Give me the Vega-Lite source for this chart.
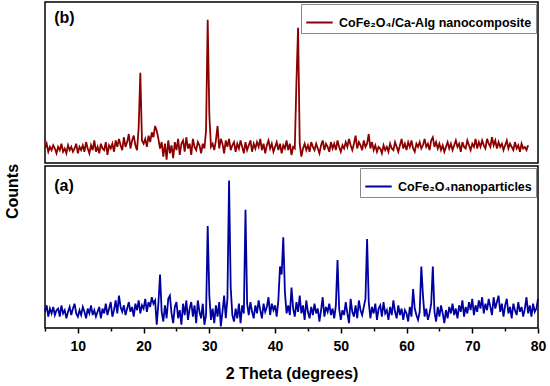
{
"$schema": "https://vega.github.io/schema/vega-lite/v6.json",
"padding": {"left": 4, "top": 1, "right": 11, "bottom": 2},
"background": "white",
"config": {
  "font": "Liberation Sans",
  "view": {"stroke": "black", "strokeWidth": 1.5},
  "legend": {"orient": "top-right", "offset": 2, "padding": 4, "strokeColor": "#888888", "fillColor": "white", "symbolType": "stroke", "symbolStrokeWidth": 2, "symbolSize": 700, "labelFontSize": 12.5, "labelFontWeight": "bold", "labelColor": "black", "labelLimit": 0, "labelOffset": 5, "title": null},
  "axis": {"grid": false}
},
"title": {"text": "Counts", "orient": "left", "anchor": "middle", "fontSize": 16, "fontWeight": "bold", "color": "black", "offset": 20},
"spacing": 0,
"resolve": {"scale": {"color": "independent"}, "legend": {"color": "independent"}},
"datasets": {"xrd": [
{"t":5,"a":10,"b":9},{"t":5.25,"a":14,"b":12},{"t":5.5,"a":7,"b":7},{"t":5.75,"a":12,"b":10},
{"t":6,"a":9,"b":8},{"t":6.25,"a":13,"b":11},{"t":6.5,"a":8,"b":9},{"t":6.75,"a":11,"b":6},
{"t":7,"a":12,"b":10},{"t":7.25,"a":7,"b":8},{"t":7.5,"a":14,"b":12},{"t":7.75,"a":9,"b":7},
{"t":8,"a":11,"b":9},{"t":8.25,"a":6,"b":6},{"t":8.5,"a":10,"b":11},{"t":8.75,"a":13,"b":8},
{"t":9,"a":8,"b":10},{"t":9.25,"a":12,"b":7},{"t":9.5,"a":15,"b":9},{"t":9.75,"a":9,"b":12},
{"t":10,"a":7,"b":6},{"t":10.25,"a":11,"b":10},{"t":10.5,"a":8,"b":8},{"t":10.75,"a":13,"b":11},
{"t":11,"a":10,"b":7},{"t":11.25,"a":6,"b":13},{"t":11.5,"a":12,"b":9},{"t":11.75,"a":9,"b":6},
{"t":12,"a":14,"b":11},{"t":12.25,"a":8,"b":8},{"t":12.5,"a":11,"b":14},{"t":12.75,"a":7,"b":7},
{"t":13,"a":10,"b":10},{"t":13.25,"a":13,"b":6},{"t":13.5,"a":6,"b":12},{"t":13.75,"a":12,"b":9},
{"t":14,"a":9,"b":8},{"t":14.25,"a":15,"b":13},{"t":14.5,"a":8,"b":5},{"t":14.75,"a":12,"b":11},
{"t":15,"a":16,"b":9},{"t":15.25,"a":7,"b":12},{"t":15.5,"a":11,"b":7},{"t":15.75,"a":17,"b":14},
{"t":16,"a":9,"b":10},{"t":16.25,"a":20,"b":15},{"t":16.5,"a":13,"b":11},{"t":16.75,"a":10,"b":8},
{"t":17,"a":14,"b":16},{"t":17.25,"a":8,"b":10},{"t":17.5,"a":12,"b":13},{"t":17.75,"a":16,"b":18},
{"t":18,"a":10,"b":9},{"t":18.25,"a":13,"b":14},{"t":18.5,"a":7,"b":17},{"t":18.75,"a":15,"b":11},
{"t":19,"a":11,"b":8},{"t":19.25,"a":17,"b":22},{"t":19.5,"a":9,"b":56},{"t":19.75,"a":14,"b":14},
{"t":20,"a":12,"b":12},{"t":20.25,"a":18,"b":15},{"t":20.5,"a":10,"b":10},{"t":20.75,"a":16,"b":17},
{"t":21,"a":13,"b":13},{"t":21.25,"a":19,"b":19},{"t":21.5,"a":15,"b":16},{"t":21.75,"a":17,"b":23},
{"t":22,"a":2,"b":20},{"t":22.25,"a":15,"b":15},{"t":22.5,"a":33,"b":9},{"t":22.75,"a":10,"b":13},
{"t":23,"a":4,"b":4},{"t":23.25,"a":14,"b":12},{"t":23.5,"a":6,"b":2},{"t":23.75,"a":18,"b":14},
{"t":24,"a":20,"b":6},{"t":24.25,"a":9,"b":11},{"t":24.5,"a":3,"b":3},{"t":24.75,"a":13,"b":13},
{"t":25,"a":16,"b":8},{"t":25.25,"a":6,"b":15},{"t":25.5,"a":11,"b":5},{"t":25.75,"a":2,"b":12},
{"t":26,"a":15,"b":14},{"t":26.25,"a":8,"b":7},{"t":26.5,"a":17,"b":16},{"t":26.75,"a":5,"b":9},
{"t":27,"a":12,"b":12},{"t":27.25,"a":16,"b":5},{"t":27.5,"a":7,"b":15},{"t":27.75,"a":14,"b":10},
{"t":28,"a":3,"b":8},{"t":28.25,"a":17,"b":13},{"t":28.5,"a":10,"b":11},{"t":28.75,"a":6,"b":6},
{"t":29,"a":15,"b":12},{"t":29.25,"a":2,"b":9},{"t":29.5,"a":8,"b":20},{"t":29.75,"a":63,"b":89},
{"t":30,"a":20,"b":30},{"t":30.25,"a":5,"b":10},{"t":30.5,"a":12,"b":12},{"t":30.75,"a":3,"b":8},
{"t":31,"a":14,"b":14},{"t":31.25,"a":7,"b":23},{"t":31.5,"a":16,"b":9},{"t":31.75,"a":1,"b":15},
{"t":32,"a":10,"b":12},{"t":32.25,"a":20,"b":6},{"t":32.5,"a":6,"b":14},{"t":32.75,"a":18,"b":10},
{"t":33,"a":91,"b":15},{"t":33.25,"a":25,"b":8},{"t":33.5,"a":8,"b":11},{"t":33.75,"a":4,"b":13},
{"t":34,"a":12,"b":7},{"t":34.25,"a":6,"b":12},{"t":34.5,"a":15,"b":9},{"t":34.75,"a":3,"b":14},
{"t":35,"a":14,"b":10},{"t":35.25,"a":9,"b":6},{"t":35.5,"a":73,"b":13},{"t":35.75,"a":15,"b":8},
{"t":36,"a":8,"b":11},{"t":36.25,"a":16,"b":14},{"t":36.5,"a":10,"b":7},{"t":36.75,"a":6,"b":12},
{"t":37,"a":14,"b":9},{"t":37.25,"a":9,"b":13},{"t":37.5,"a":17,"b":10},{"t":37.75,"a":11,"b":15},
{"t":38,"a":6,"b":8},{"t":38.25,"a":15,"b":12},{"t":38.5,"a":10,"b":6},{"t":38.75,"a":13,"b":11},
{"t":39,"a":19,"b":14},{"t":39.25,"a":8,"b":9},{"t":39.5,"a":15,"b":12},{"t":39.75,"a":11,"b":7},
{"t":40,"a":14,"b":10},{"t":40.25,"a":7,"b":13},{"t":40.5,"a":17,"b":8},{"t":40.75,"a":38,"b":12},
{"t":41,"a":33,"b":6},{"t":41.25,"a":56,"b":11},{"t":41.5,"a":22,"b":9},{"t":41.75,"a":9,"b":14},
{"t":42,"a":14,"b":8},{"t":42.25,"a":8,"b":12},{"t":42.5,"a":25,"b":5},{"t":42.75,"a":12,"b":10},
{"t":43,"a":7,"b":9},{"t":43.25,"a":16,"b":50},{"t":43.5,"a":10,"b":84},{"t":43.75,"a":20,"b":12},
{"t":44,"a":9,"b":4},{"t":44.25,"a":14,"b":9},{"t":44.5,"a":5,"b":12},{"t":44.75,"a":17,"b":8},
{"t":45,"a":10,"b":11},{"t":45.25,"a":6,"b":7},{"t":45.5,"a":13,"b":13},{"t":45.75,"a":8,"b":10},
{"t":46,"a":15,"b":8},{"t":46.25,"a":9,"b":12},{"t":46.5,"a":12,"b":9},{"t":46.75,"a":4,"b":6},
{"t":47,"a":11,"b":11},{"t":47.25,"a":19,"b":14},{"t":47.5,"a":7,"b":8},{"t":47.75,"a":13,"b":12},
{"t":48,"a":10,"b":10},{"t":48.25,"a":15,"b":7},{"t":48.5,"a":8,"b":13},{"t":48.75,"a":12,"b":9},
{"t":49,"a":6,"b":12},{"t":49.25,"a":14,"b":8},{"t":49.5,"a":42,"b":14},{"t":49.75,"a":12,"b":10},
{"t":50,"a":5,"b":7},{"t":50.25,"a":11,"b":11},{"t":50.5,"a":8,"b":9},{"t":50.75,"a":16,"b":13},
{"t":51,"a":9,"b":10},{"t":51.25,"a":3,"b":15},{"t":51.5,"a":18,"b":11},{"t":51.75,"a":10,"b":8},
{"t":52,"a":7,"b":12},{"t":52.25,"a":14,"b":17},{"t":52.5,"a":6,"b":9},{"t":52.75,"a":17,"b":13},
{"t":53,"a":11,"b":11},{"t":53.25,"a":8,"b":8},{"t":53.5,"a":13,"b":14},{"t":53.75,"a":18,"b":10},
{"t":54,"a":55,"b":12},{"t":54.25,"a":16,"b":18},{"t":54.5,"a":6,"b":9},{"t":54.75,"a":13,"b":13},
{"t":55,"a":9,"b":8},{"t":55.25,"a":15,"b":11},{"t":55.5,"a":5,"b":7},{"t":55.75,"a":12,"b":10},
{"t":56,"a":14,"b":9},{"t":56.25,"a":7,"b":6},{"t":56.5,"a":16,"b":11},{"t":56.75,"a":9,"b":8},
{"t":57,"a":11,"b":10},{"t":57.25,"a":5,"b":7},{"t":57.5,"a":13,"b":12},{"t":57.75,"a":8,"b":9},
{"t":58,"a":17,"b":8},{"t":58.25,"a":10,"b":13},{"t":58.5,"a":6,"b":10},{"t":58.75,"a":14,"b":7},
{"t":59,"a":8,"b":11},{"t":59.25,"a":12,"b":15},{"t":59.5,"a":5,"b":9},{"t":59.75,"a":11,"b":12},
{"t":60,"a":9,"b":8},{"t":60.25,"a":4,"b":13},{"t":60.5,"a":13,"b":10},{"t":60.75,"a":7,"b":14},
{"t":61,"a":24,"b":9},{"t":61.25,"a":12,"b":7},{"t":61.5,"a":8,"b":12},{"t":61.75,"a":5,"b":10},
{"t":62,"a":10,"b":13},{"t":62.25,"a":38,"b":9},{"t":62.5,"a":20,"b":11},{"t":62.75,"a":7,"b":15},
{"t":63,"a":12,"b":10},{"t":63.25,"a":5,"b":12},{"t":63.5,"a":9,"b":8},{"t":63.75,"a":15,"b":14},
{"t":64,"a":38,"b":16},{"t":64.25,"a":10,"b":10},{"t":64.5,"a":4,"b":13},{"t":64.75,"a":13,"b":9},
{"t":65,"a":7,"b":12},{"t":65.25,"a":14,"b":8},{"t":65.5,"a":9,"b":11},{"t":65.75,"a":3,"b":7},
{"t":66,"a":11,"b":10},{"t":66.25,"a":6,"b":13},{"t":66.5,"a":13,"b":9},{"t":66.75,"a":9,"b":12},
{"t":67,"a":15,"b":8},{"t":67.25,"a":8,"b":11},{"t":67.5,"a":12,"b":14},{"t":67.75,"a":6,"b":10},
{"t":68,"a":14,"b":12},{"t":68.25,"a":10,"b":7},{"t":68.5,"a":17,"b":13},{"t":68.75,"a":7,"b":10},
{"t":69,"a":13,"b":9},{"t":69.25,"a":9,"b":14},{"t":69.5,"a":16,"b":11},{"t":69.75,"a":11,"b":8},
{"t":70,"a":18,"b":12},{"t":70.25,"a":8,"b":10},{"t":70.5,"a":14,"b":15},{"t":70.75,"a":10,"b":9},
{"t":71,"a":17,"b":13},{"t":71.25,"a":12,"b":10},{"t":71.5,"a":19,"b":14},{"t":71.75,"a":9,"b":11},
{"t":72,"a":15,"b":9},{"t":72.25,"a":11,"b":15},{"t":72.5,"a":18,"b":12},{"t":72.75,"a":13,"b":10},
{"t":73,"a":8,"b":16},{"t":73.25,"a":19,"b":11},{"t":73.5,"a":12,"b":14},{"t":73.75,"a":16,"b":9},
{"t":74,"a":20,"b":13},{"t":74.25,"a":10,"b":10},{"t":74.5,"a":15,"b":12},{"t":74.75,"a":7,"b":8},
{"t":75,"a":14,"b":11},{"t":75.25,"a":18,"b":14},{"t":75.5,"a":9,"b":9},{"t":75.75,"a":13,"b":12},
{"t":76,"a":6,"b":10},{"t":76.25,"a":15,"b":8},{"t":76.5,"a":11,"b":13},{"t":76.75,"a":8,"b":9},
{"t":77,"a":16,"b":11},{"t":77.25,"a":10,"b":7},{"t":77.5,"a":13,"b":12},{"t":77.75,"a":7,"b":9},
{"t":78,"a":12,"b":10},{"t":78.25,"a":19,"b":8},{"t":78.5,"a":9,"b":11},{"t":78.75,"a":14},
{"t":79,"a":7},{"t":79.25,"a":15},{"t":79.5,"a":10},{"t":79.75,"a":12},
{"t":80,"a":18}
]},
"vconcat": [
  {
    "width": 493, "height": 161,
    "layer": [
      {
        "data": {"name": "xrd"},
        "mark": {"type": "line", "strokeWidth": 1.8},
        "encoding": {
          "x": {"field": "t", "type": "quantitative", "scale": {"domain": [5, 80], "nice": false, "zero": false}, "axis": null},
          "y": {"field": "b", "type": "quantitative", "scale": {"domain": [0, 100], "nice": false}, "axis": null},
          "color": {"datum": "CoFe₂O₄/Ca-Alg nanocomposite", "type": "nominal", "scale": {"range": ["#8b0000"]}, "legend": {"title": null}}
        }
      },
      {
        "data": {"values": [{"lab": "(b)"}]},
        "mark": {"type": "text", "align": "left", "baseline": "middle", "fontSize": 16, "fontWeight": "bold", "color": "black"},
        "encoding": {
          "x": {"datum": 6.4, "type": "quantitative"},
          "y": {"datum": 90, "type": "quantitative"},
          "text": {"field": "lab"}
        }
      }
    ]
  },
  {
    "width": 493, "height": 162,
    "layer": [
      {
        "data": {"name": "xrd"},
        "mark": {"type": "line", "strokeWidth": 1.8},
        "encoding": {
          "x": {"field": "t", "type": "quantitative", "scale": {"domain": [5, 80], "nice": false, "zero": false},
                "axis": {"title": "2 Theta (degrees)", "orient": "bottom", "values": [5,10,15,20,25,30,35,40,45,50,55,60,65,70,75,80],
                         "tickCount": 20,
                         "labelExpr": "floor(datum.value / 10) * 10 == datum.value ? datum.label : ''",
                         "domain": false, "tickColor": "black", "tickWidth": 1.5,
                         "tickSize": {"condition": {"test": "floor(datum.value / 10) * 10 != datum.value", "value": 3}, "value": 5},
                         "labelFontSize": 14, "labelFontWeight": "bold", "labelColor": "black", "labelPadding": 6,
                         "labelFlush": false, "labelOverlap": false, "labelBound": false,
                         "titleFontSize": 16, "titleFontWeight": "bold", "titleColor": "black", "titlePadding": 12}},
          "y": {"field": "a", "type": "quantitative", "scale": {"domain": [0, 100], "nice": false}, "axis": null},
          "color": {"datum": "CoFe₂O₄nanoparticles", "type": "nominal", "scale": {"range": ["#0000a0"]}, "legend": {"title": null}}
        }
      },
      {
        "data": {"values": [{"lab": "(a)"}]},
        "mark": {"type": "text", "align": "left", "baseline": "middle", "fontSize": 16, "fontWeight": "bold", "color": "black"},
        "encoding": {
          "x": {"datum": 6.4, "type": "quantitative"},
          "y": {"datum": 87.6, "type": "quantitative"},
          "text": {"field": "lab"}
        }
      }
    ]
  }
]
}
